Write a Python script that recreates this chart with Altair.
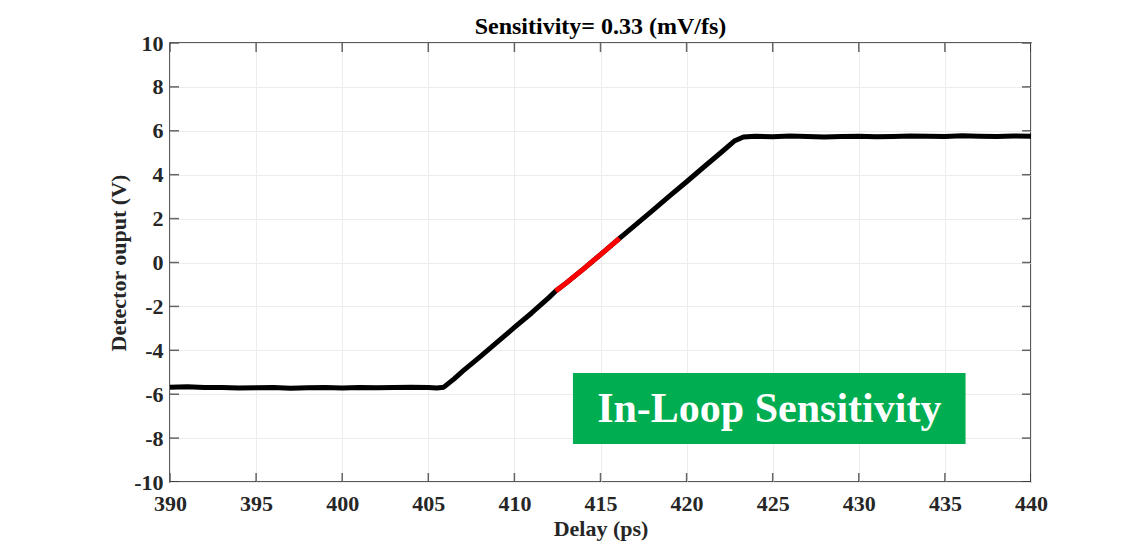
import altair as alt
import pandas as pd

# ---- data ----
delay = [390, 391, 392, 393, 394, 395, 396, 397, 398, 399, 400, 401, 402, 403, 404, 405, 405.5, 405.9,
         406.5, 407, 408, 409, 410, 411, 412, 412.4, 413, 414, 415, 416, 416.1, 417, 418, 419, 420,
         421, 422, 422.8, 423.3, 424, 425, 426, 427, 428, 429, 430, 431, 432, 433, 434, 435, 436,
         437, 438, 439, 440]
output = [-5.68, -5.66, -5.70, -5.69, -5.72, -5.71, -5.70, -5.73, -5.71, -5.70, -5.72, -5.69, -5.71,
          -5.70, -5.68, -5.70, -5.72, -5.68,
          -5.30, -4.95, -4.30, -3.63, -2.96, -2.30, -1.60, -1.30, -0.94, -0.30, 0.36, 1.03, 1.10,
          1.69, 2.35, 3.02, 3.68, 4.35, 5.01, 5.55, 5.72,
          5.75, 5.73, 5.76, 5.74, 5.72, 5.74, 5.75, 5.73, 5.74, 5.76, 5.75, 5.74, 5.77, 5.75, 5.74,
          5.76, 5.75]

red_delay = [412.4, 413, 414, 415, 416, 416.1]
red_output = [-1.30, -0.94, -0.30, 0.36, 1.03, 1.10]

x_ticks = [390, 395, 400, 405, 410, 415, 420, 425, 430, 435, 440]
y_ticks = [-10, -8, -6, -4, -2, 0, 2, 4, 6, 8, 10]

box_x = [413.4, 436.2]
box_y = [-8.27, -5.03]
box_label = "In-Loop Sensitivity"

title_text = "Sensitivity= 0.33 (mV/fs)"
x_title = "Delay (ps)"
y_title = "Detector ouput (V)"

FONT = "Liberation Serif"
INK = "#262626"

df = pd.DataFrame({"delay": delay, "out": output})
df_red = pd.DataFrame({"delay": red_delay, "out": red_output})
df_xt = pd.DataFrame({"t": x_ticks})
df_yt = pd.DataFrame({"t": y_ticks})
df_box = pd.DataFrame({"x": [box_x[0]], "x2": [box_x[1]], "y": [box_y[0]], "y2": [box_y[1]],
                       "xc": [(box_x[0] + box_x[1]) / 2], "yc": [(box_y[0] + box_y[1]) / 2],
                       "label": [box_label]})

xs = alt.Scale(domain=[390, 440], nice=False, zero=False)
ys = alt.Scale(domain=[-10, 10], nice=False, zero=False)

axis_style = dict(
    labelFont=FONT, labelFontWeight="bold", labelFontSize=22, labelColor=INK,
    titleFont=FONT, titleFontWeight="bold", titleFontSize=22, titleColor=INK,
    gridColor="#ececec", gridWidth=1, grid=True, ticks=False, domain=False,
    labelFlush=False, labelOverlap=False, labelExpr="datum.value",
)

x_axis = alt.Axis(values=x_ticks, title=x_title, labelPadding=11, titlePadding=4, **axis_style)
y_axis = alt.Axis(values=y_ticks, title=y_title, labelPadding=7, titlePadding=3, **axis_style)

base_line = alt.Chart(df).mark_line(color="black", strokeWidth=5, strokeJoin="round",
                                     strokeCap="butt").encode(
    x=alt.X("delay:Q", scale=xs, axis=x_axis),
    y=alt.Y("out:Q", scale=ys, axis=y_axis),
)

red_line = alt.Chart(df_red).mark_line(color="#ff0000", strokeWidth=5, strokeCap="butt").encode(
    x=alt.X("delay:Q", scale=xs), y=alt.Y("out:Q", scale=ys))

tick_common = dict(color=INK, size=18, thickness=1.5, clip=True)
xt_bottom = alt.Chart(df_xt).mark_tick(orient="vertical", **tick_common).encode(
    x=alt.X("t:Q", scale=xs), y=alt.datum(-10, scale=ys))
xt_top = alt.Chart(df_xt).mark_tick(orient="vertical", **tick_common).encode(
    x=alt.X("t:Q", scale=xs), y=alt.datum(10, scale=ys))
yt_left = alt.Chart(df_yt).mark_tick(orient="horizontal", **tick_common).encode(
    y=alt.Y("t:Q", scale=ys), x=alt.datum(390, scale=xs))
yt_right = alt.Chart(df_yt).mark_tick(orient="horizontal", **tick_common).encode(
    y=alt.Y("t:Q", scale=ys), x=alt.datum(440, scale=xs))

box = alt.Chart(df_box).mark_rect(color="#00ad50").encode(
    x=alt.X("x:Q", scale=xs), x2="x2", y=alt.Y("y:Q", scale=ys), y2="y2")
box_text = alt.Chart(df_box).mark_text(font=FONT, fontWeight="bold", fontSize=42, color="white",
                                       align="center", baseline="middle", dy=1).encode(
    x=alt.X("xc:Q", scale=xs), y=alt.Y("yc:Q", scale=ys), text="label:N")

chart = alt.layer(base_line, red_line, xt_bottom, xt_top, yt_left, yt_right, box, box_text).properties(
    width=861, height=439,
    background="white",
    title=alt.TitleParams(text=title_text, font=FONT, fontWeight="bold", fontSize=24, color="black",
                          offset=1, dy=8),
    autosize=alt.AutoSizeParams(type="none"),
    padding={"left": 162, "top": 35, "right": 60, "bottom": 60},
).configure_view(
    stroke=INK, strokeWidth=1.5
)

chart.save("out.html", embed_options={"renderer": "svg", "actions": False})
